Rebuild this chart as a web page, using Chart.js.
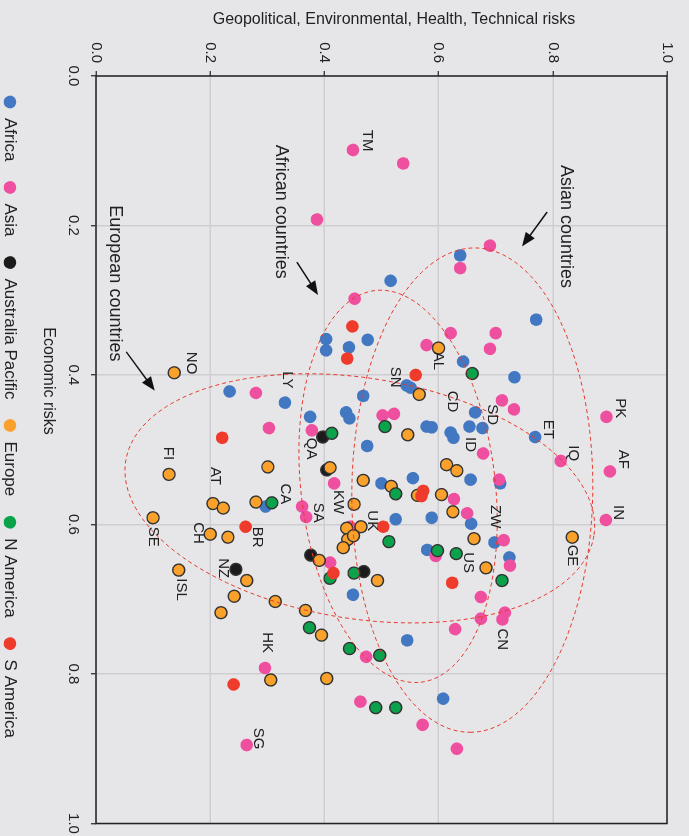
<!DOCTYPE html>
<html>
<head>
<meta charset="utf-8">
<script src="https://cdn.jsdelivr.net/npm/chart.js@4/dist/chart.umd.min.js"></script>
<style>
  html, body { margin: 0; padding: 0; background: #e6e6e9; overflow: hidden; }
  /* chart is drawn landscape, then turned a quarter clockwise like the source figure */
  #wrap { position: absolute; left: 0; top: 0; width: 836px; height: 689px;
          transform-origin: 0 0; transform: translate(689px, 0) rotate(90deg); }
  #chart { display: block; }
  #title { position: absolute; left: 94px; top: 10px; width: 600px; text-align: center;
           font: 16px "Liberation Sans", Arial, sans-serif; color: #222; line-height: 18px; }
</style>
</head>
<body>
<div id="wrap"><canvas id="chart" width="836" height="689"></canvas></div>
<div id="title">Geopolitical, Environmental, Health, Technical risks</div>
<script>
// [economic risk, geopolitical/environmental/health/technical risk]
const africa = [[0.240,0.638],[0.274,0.516],[0.326,0.771],[0.352,0.403],[0.367,0.403],[0.363,0.443],
  [0.353,0.476],[0.382,0.643],[0.403,0.733],[0.414,0.544],[0.417,0.551],[0.422,0.234],[0.437,0.331],
  [0.428,0.468],[0.456,0.375],[0.450,0.438],[0.458,0.444],[0.450,0.664],[0.483,0.769],[0.469,0.579],
  [0.470,0.588],[0.477,0.621],[0.484,0.626],[0.469,0.654],[0.471,0.677],[0.495,0.475],[0.576,0.297],
  [0.545,0.500],[0.538,0.555],[0.540,0.656],[0.545,0.708],[0.593,0.525],[0.591,0.588],[0.599,0.657],
  [0.624,0.698],[0.634,0.580],[0.644,0.724],[0.694,0.450],[0.755,0.545],[0.833,0.608]];
const asia = [[0.099,0.450],[0.192,0.387],[0.117,0.538],[0.227,0.690],[0.257,0.638],[0.298,0.453],
  [0.344,0.621],[0.344,0.700],[0.365,0.690],[0.360,0.579],[0.424,0.280],[0.454,0.502],[0.452,0.522],
  [0.434,0.711],[0.446,0.732],[0.456,0.894],[0.471,0.303],[0.474,0.378],[0.505,0.678],[0.515,0.814],
  [0.529,0.900],[0.545,0.417],[0.540,0.706],[0.566,0.627],[0.585,0.650],[0.576,0.361],[0.590,0.368],
  [0.594,0.893],[0.621,0.714],[0.642,0.595],[0.655,0.725],[0.651,0.410],[0.697,0.674],[0.718,0.716],
  [0.726,0.674],[0.727,0.712],[0.740,0.629],[0.777,0.473],[0.792,0.296],[0.837,0.463],[0.868,0.572],
  [0.900,0.632],[0.895,0.264],[0.603,0.445]];
const australiaPacific = [[0.483,0.397],[0.527,0.404],[0.641,0.376],[0.663,0.469],[0.660,0.245]];
const europe = [[0.397,0.137],[0.364,0.600],[0.426,0.566],[0.480,0.546],[0.533,0.128],[0.523,0.301],
  [0.524,0.410],[0.541,0.468],[0.520,0.614],[0.528,0.632],[0.549,0.517],[0.561,0.563],[0.560,0.605],
  [0.583,0.625],[0.572,0.205],[0.578,0.223],[0.570,0.280],[0.573,0.452],[0.591,0.100],[0.613,0.200],
  [0.617,0.231],[0.605,0.439],[0.603,0.464],[0.620,0.441],[0.615,0.451],[0.631,0.433],[0.617,0.834],
  [0.619,0.662],[0.648,0.391],[0.675,0.493],[0.658,0.683],[0.661,0.145],[0.675,0.264],[0.696,0.242],
  [0.703,0.314],[0.718,0.219],[0.715,0.367],[0.748,0.395],[0.808,0.306],[0.806,0.404]];
const nAmerica = [[0.478,0.413],[0.469,0.506],[0.398,0.659],[0.571,0.308],[0.559,0.525],[0.623,0.513],
  [0.635,0.598],[0.639,0.631],[0.675,0.711],[0.672,0.410],[0.665,0.452],[0.738,0.374],[0.766,0.444],
  [0.775,0.497],[0.845,0.490],[0.845,0.525]];
const sAmerica = [[0.335,0.449],[0.378,0.440],[0.400,0.560],[0.484,0.221],[0.603,0.262],[0.603,0.503],
  [0.555,0.573],[0.562,0.570],[0.665,0.416],[0.678,0.624],[0.814,0.241]];

// country codes, placed where the text starts
const countryLabels = [['TM',0.072,0.475],['AL',0.369,0.599],['SN',0.389,0.524],['CD',0.421,0.624],
  ['SD',0.439,0.694],['ID',0.483,0.655],['PK',0.431,0.918],['ET',0.460,0.792],['IQ',0.494,0.835],
  ['AF',0.500,0.923],['IN',0.574,0.914],['GE',0.627,0.834],['ZW',0.574,0.699],['US',0.637,0.652],
  ['CN',0.739,0.711],['NO',0.369,0.166],['LY',0.395,0.335],['QA',0.484,0.377],['FI',0.496,0.126],
  ['AT',0.523,0.208],['CA',0.545,0.331],['KW',0.554,0.424],['SA',0.571,0.389],['UK',0.581,0.483],
  ['SE',0.603,0.100],['CH',0.597,0.179],['BR',0.603,0.282],['NZ',0.645,0.222],['ISL',0.672,0.149],
  ['HK',0.744,0.300],['SG',0.872,0.284]];

// group notes: text start, arrow tail, arrow head
const groupNotes = [
  ['Asian countries',    [0.119,0.823], [0.182,0.790], [0.228,0.746]],
  ['African countries',  [0.092,0.324], [0.249,0.352], [0.293,0.389]],
  ['European countries', [0.173,0.033], [0.369,0.053], [0.421,0.103]]
];

// dashed group outlines: centre and two conjugate half-axes
const groupEllipses = [
  { c: [0.554,0.659], u: [0.324,-0.004], v: [0.000,0.211] },
  { c: [0.549,0.529], u: [0.262, 0.040], v: [-0.015,0.169] },
  { c: [0.565,0.462], u: [0.050, 0.410], v: [0.159,-0.033] }
];

const tickValues = [0, 0.2, 0.4, 0.6, 0.8, 1.0];

const FONT = '"Liberation Sans", Arial, sans-serif';
const TEXT = '#222';
const BG = '#e6e6e9';
const GRID = '#cdcdd2';

const toXY = arr => arr.map(p => ({ x: p[0], y: p[1] }));

function series(label, data, color, outlined) {
  return {
    label, data: toXY(data),
    backgroundColor: color,
    borderColor: outlined ? '#333' : color,
    borderWidth: outlined ? 1.4 : 0,
    pointRadius: outlined ? 6 : 6.3,
    pointHoverRadius: 6
  };
}

const extras = {
  id: 'extras',
  beforeDraw(chart) {
    const { ctx, width, height } = chart;
    ctx.save();
    ctx.fillStyle = BG;
    ctx.fillRect(0, 0, width, height);
    ctx.restore();
  },
  afterDatasetsDraw(chart) {
    const { ctx, chartArea: a, scales: { x, y } } = chart;
    const px = p => [x.getPixelForValue(p[0]), y.getPixelForValue(p[1])];
    ctx.save();

    // ellipses
    ctx.save();
    ctx.beginPath();
    ctx.rect(a.left, a.top, a.width, a.height);
    ctx.clip();
    ctx.strokeStyle = '#e8392b';
    ctx.lineWidth = 1;
    ctx.setLineDash([4, 3]);
    groupEllipses.forEach(e => {
      ctx.beginPath();
      for (let i = 0; i <= 180; i++) {
        const t = i / 180 * Math.PI * 2;
        const p = px([e.c[0] + e.u[0] * Math.cos(t) + e.v[0] * Math.sin(t),
                      e.c[1] + e.u[1] * Math.cos(t) + e.v[1] * Math.sin(t)]);
        if (i === 0) ctx.moveTo(p[0], p[1]); else ctx.lineTo(p[0], p[1]);
      }
      ctx.stroke();
    });
    ctx.restore();

    // frame
    ctx.strokeStyle = '#222';
    ctx.lineWidth = 1.5;
    ctx.strokeRect(a.left, a.top, a.width, a.height);

    // country codes
    ctx.fillStyle = TEXT;
    ctx.font = '15px ' + FONT;
    ctx.textAlign = 'left';
    ctx.textBaseline = 'middle';
    countryLabels.forEach(([code, ex, gy]) => {
      const p = px([ex, gy]);
      ctx.fillText(code, p[0], p[1]);
    });

    // group notes with arrows
    ctx.font = '18px ' + FONT;
    groupNotes.forEach(([text, at, from, to]) => {
      const p = px(at);
      ctx.fillStyle = TEXT;
      ctx.fillText(text, p[0], p[1]);
      const s = px(from), e = px(to);
      const ang = Math.atan2(e[1] - s[1], e[0] - s[0]);
      const len = 14, hw = 5.5;
      ctx.strokeStyle = '#111';
      ctx.lineWidth = 1.5;
      ctx.beginPath();
      ctx.moveTo(s[0], s[1]);
      ctx.lineTo(e[0] - Math.cos(ang) * len * 0.8, e[1] - Math.sin(ang) * len * 0.8);
      ctx.stroke();
      ctx.fillStyle = '#111';
      ctx.beginPath();
      ctx.moveTo(e[0], e[1]);
      ctx.lineTo(e[0] - Math.cos(ang) * len - Math.sin(ang) * hw, e[1] - Math.sin(ang) * len + Math.cos(ang) * hw);
      ctx.lineTo(e[0] - Math.cos(ang) * len + Math.sin(ang) * hw, e[1] - Math.sin(ang) * len - Math.cos(ang) * hw);
      ctx.closePath();
      ctx.fill();
    });

    // axis title sits left of centre in the source
    ctx.fillStyle = TEXT;
    ctx.font = '16px ' + FONT;
    ctx.textAlign = 'center';
    ctx.fillText('Economic risks', 381, 641);
    ctx.restore();
  }
};

const axisTicks = pad => ({
  stepSize: 0.2, padding: pad, color: TEXT, autoSkip: false, maxRotation: 0,
  font: { size: 15, family: FONT },
  callback: v => (tickValues.find(t => Math.abs(t - v) < 1e-6) ?? v).toFixed(1)
});
const axisGrid = { color: GRID, lineWidth: 1.5, tickLength: 5, tickColor: '#222', tickWidth: 1.2 };

new Chart(document.getElementById('chart'), {
  type: 'scatter',
  data: {
    // first dataset is drawn on top, so go from last region to first
    datasets: [
      series('S America', sAmerica, '#ef3b2c', false),
      series('N America', nAmerica, '#0aa24b', true),
      series('Europe', europe, '#f9a12b', true),
      series('Australia Pacific', australiaPacific, '#1b1b1b', true),
      series('Asia', asia, '#ef4f9f', false),
      series('Africa', africa, '#4277c2', false)
    ]
  },
  options: {
    responsive: false,
    animation: false,
    events: [],
    layout: { padding: { top: 22, right: 12.5, left: 0, bottom: 0 } },
    scales: {
      x: {
        type: 'linear', min: 0, max: 1, position: 'bottom',
        ticks: axisTicks(9), grid: axisGrid, border: { display: false },
        afterFit: s => { s.height = 59; s.paddingLeft = 0; s.paddingRight = 0; }
      },
      y: {
        type: 'linear', min: 0, max: 1, position: 'left',
        ticks: axisTicks(8), grid: axisGrid, border: { display: false },
        afterFit: s => { s.width = 76; s.paddingTop = 0; s.paddingBottom = 0; }
      }
    },
    plugins: {
      tooltip: { enabled: false },
      legend: {
        position: 'bottom', align: 'start', fullSize: false, reverse: true, maxHeight: 37,
        labels: {
          usePointStyle: true, pointStyle: 'circle', boxWidth: 15, boxHeight: 9, padding: 18.5,
          color: TEXT, font: { size: 17, family: FONT },
          generateLabels(chart) {
            const items = Chart.defaults.plugins.legend.labels.generateLabels(chart);
            items.forEach(it => { it.lineWidth = 0; it.strokeStyle = 'rgba(0,0,0,0)'; });
            return items;
          }
        }
      }
    }
  },
  plugins: [extras]
});
</script>
</body>
</html>
